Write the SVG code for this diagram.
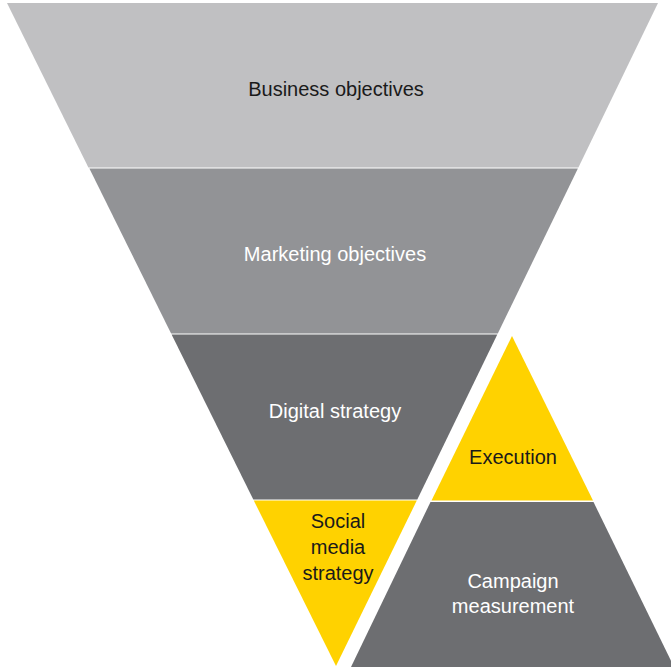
<svg xmlns="http://www.w3.org/2000/svg" width="671" height="667" viewBox="0 0 671 667">
<style>
text{font-family:"Liberation Sans",Arial,sans-serif;font-size:20px;text-anchor:middle}
.dk{fill:#1a1a1a}
.wt{fill:#ffffff}
</style>
<rect width="671" height="667" fill="#ffffff"/>
<g id="business-objectives">
<polygon points="7,3 658,3 578.4,167.5 88.4,167.5" fill="#c0c0c2"/>
<text x="336" y="96" class="dk">Business objectives</text>
</g>
<g id="marketing-objectives">
<polygon points="89.4,168.5 577.9,168.5 497.8,333.5 171.1,333.5" fill="#929396"/>
<text x="335" y="261" class="wt">Marketing objectives</text>
</g>
<g id="digital-strategy">
<polygon points="171.6,334.5 497.3,334.5 417.3,499.5 253.3,499.5" fill="#6d6e71"/>
<text x="335" y="418" class="wt">Digital strategy</text>
</g>
<g id="social-media-strategy">
<polygon points="253.8,500.5 416.8,500.5 336,666" fill="#ffd200"/>
<text x="338" y="528" class="dk">Social</text>
<text x="338" y="554" class="dk">media</text>
<text x="338" y="580" class="dk">strategy</text>
</g>
<g id="execution">
<polygon points="512,336 593,500.5 431.5,500.5" fill="#ffd200"/>
<text x="513" y="464" class="dk">Execution</text>
</g>
<g id="campaign-measurement">
<polygon points="430.5,502 593.5,502 674,667 351,667" fill="#6d6e71"/>
<text x="513" y="588" class="wt">Campaign</text>
<text x="513" y="613" class="wt">measurement</text>
</g>
<g id="connectors"></g>
</svg>
